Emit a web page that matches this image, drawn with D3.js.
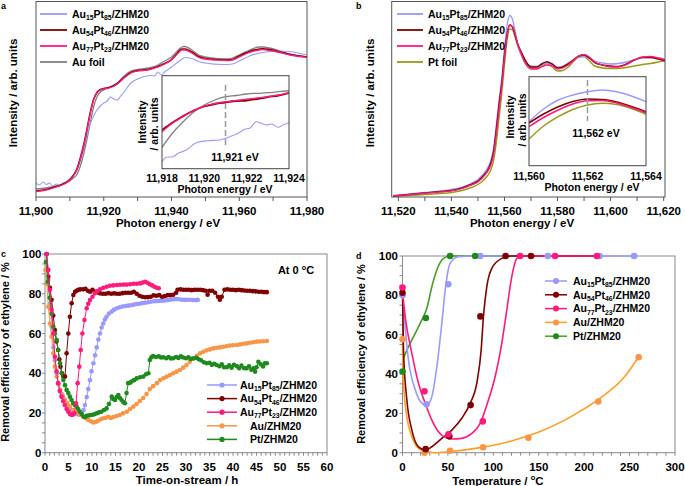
<!DOCTYPE html>
<html>
<head>
<meta charset="utf-8">
<script src="https://cdn.jsdelivr.net/npm/d3@7"></script>
<style>
body { margin: 0; background: #fff; }
text { font-family: "Liberation Sans", Arial, sans-serif; font-weight: bold; fill: #000; }
</style>
</head>
<body>
<svg id="fig" width="685" height="486"></svg>
<script>
// ----- panel a : Au L3 edge (arb. units) -----
let aEV = [11900,11903,11906,11908,11910,11911,11912,11913,11914,11915,11916,11917,11918,11919,11920,11922,11924,11926,11928,11930,11933,11936,11938,11940,11942,11943,11944,11946,11948,11950,11953,11956,11958,11960,11963,11966,11967,11969,11972,11975,11980];
let aAu77 = [5.3,7,10,12.5,17,21,27,37,50,66,83,97,104,107,108,109.5,113,119,124,126,127,130,133,137,144,147,147,144,139.5,138,137,136.3,137,140,144.5,147,147.3,146.5,144.5,142,139.7];
let aAu54 = [6,7.5,10.5,13,17.5,21.5,27.5,38,51,67,84,97.5,104.5,107.5,108.5,110,113.5,119.5,124.5,126.5,127.5,130.5,133.5,137.5,145,148,148,145,140.5,138.5,137.5,137,137.5,141,145.5,148,148.3,147.5,145,142.5,140];
let aAuFoil = [8,9,11,13,16,19,22,30,42,57,74,90,100,105,107,110,114,121,126,127.5,129,132,136,140,147,150,150.5,147,142,140,138.5,138,139,142,147,150,150,149,146,143,140];
let aEVb = [11900,11901,11902,11903,11904,11905,11906,11907,11908,11909,11910,11911,11912,11913,11914,11915,11916,11917,11918,11919,11920,11921,11922,11923,11924,11925,11926,11928,11930,11932,11934,11935,11936,11937,11938,11940,11942,11944,11946,11948,11950,11955,11958,11960,11963,11966,11969,11972,11975,11980];
let aAu15 = [14,12,15,12.5,14,11,13,11,14,15,18,21,26,35,47,61,73,81,87,91,94,96,100,98,97,101,105,114,118,120.5,121.5,121,125,122,125,130,135,139.5,138.5,135.5,134,132.5,133,136,141,144,145.5,146,145.5,142];
// inset a
let aiEV = [11918,11918.5,11919,11919.5,11920,11920.5,11921,11921.5,11922,11922.5,11923,11923.5,11924];
let aiAu77 = [37,45.7,52,58.2,62.7,65.2,67,68.2,69.4,70.7,72,73.7,76];
let aiAu54 = [38.7,46.2,52.7,58.2,62.2,64.7,66.2,67.7,68.2,69.7,71.7,73.2,75.7];
let aiAuFoil = [21.4,35.7,47,56.7,63.7,68.7,72,73.2,74.7,75.4,76,77,78];
let aiEVb = [11918,11918.2,11918.52,11918.76,11919.15,11919.62,11920.17,11920.72,11921.2,11921.6,11921.9,11922.14,11922.46,11922.7,11922.93,11923.17,11923.48,11923.72,11924];
let aiAu15 = [7,11.4,12,15.4,18.7,26,28,28.7,32,35.4,39.4,40.4,47,45.4,43.7,44.7,41.4,43.7,46];

// ----- panel b : Pt L3 edge -----
let bEV = [11518,11524,11530,11536,11540,11544,11547,11550,11552,11553.5,11555,11556,11557,11558,11559,11560,11561,11562,11563,11564,11565,11566.5,11568,11570,11572,11574,11576,11578,11580,11582,11584,11586,11588,11590,11592,11594,11597,11600,11603,11606,11609,11612,11615,11618,11620.5];
let bAu15 = [1.5,3,4.5,6,7.5,10,13,17.5,23,28.5,38,51,74,98,120,148,172,181.5,178,166,152,141,134,131,130.5,132,134,132,130,131,134,137.5,140,140.5,138.5,136,134,133,133.5,135,137.5,139.5,139.5,139,138];
let bAu54 = [1,2.5,4,5.5,6.5,9,12,16,21,26,35,47,69,93,114,142,163,172,170,162,153,144,136,130,130,133,135.3,133,129,130,133,137,141,142,139,134.5,132,131,130.5,133,137,139.5,139.5,138,136];
let bAu77 = [1,2.3,3.8,5.2,6.2,8.5,11.5,15,20,25,33,44,65,89,111,140,162,172,170.5,163,153,142,133,128,128,130,132,131,128,129,132,136.5,141,142.5,140,135,132,130,130,132.5,137,140,140.5,139,137];
let bPtFoil = [0.5,1.5,2.5,3.5,4.5,6.5,9,12.5,16.5,21,28,38,56,80,104,132,157,168,167,160,151,141,133,129,128.5,131,133.5,130,126,126.5,130,135.5,140,140.5,136,131,129,128.5,128.5,129.5,131,132.5,133.5,135,136.5];
// inset b
let biEV = [11560,11560.5,11561,11561.5,11562,11562.5,11563,11563.5,11564];
let biAu15 = [44,56.7,65.7,70.7,74,75.7,74,69.7,64];
let biAu54 = [42.7,51.7,59,64.2,66.7,66.2,63.7,59.2,54];
let biAu77 = [39,48.2,55.7,61.7,65,65.2,62.7,58.2,53];
let biPtFoil = [26.7,39.7,49,56.2,60.7,62.4,61.2,57.2,51.4];

// ----- panel c : removal efficiency vs time on stream [h, %] -----
let cAu15 = [[0.3,100],[0.7,87],[1.06,75],[1.4,63.5],[1.77,53],[2.1,46.5],[2.5,40],[2.85,35],[3.2,31.5],[3.55,29.5],[3.9,28],[4.25,26.5],[4.6,25],[4.95,23.5],[5.3,22.3],[5.65,21.5],[6,20.6],[6.35,20],[6.7,19.5],[7.05,19.3],[7.4,19.5],[7.8,20],[8.2,21.5],[8.5,24],[8.87,28],[9.2,32],[9.57,36.5],[9.9,41],[10.3,45],[10.65,49],[11,53],[11.35,57],[11.7,60],[12.05,63],[12.4,65],[12.75,67],[13.1,68.4],[13.6,70],[14.2,71],[14.7,72],[15.3,72.7],[15.9,73.2],[16.5,73.6],[17.1,73.8],[17.7,74],[18.3,74.2],[18.9,74.5],[19.5,74.8],[20.1,75],[20.7,75.3],[21.3,75.5],[21.9,75.7],[22.5,76],[23.1,76.2],[23.7,76.3],[24.3,76.4],[24.9,76.5],[25.5,76.6],[26.1,76.8],[26.7,77],[27.3,77.2],[27.9,77.3],[28.5,77.2],[29.1,77],[29.7,76.9],[30.3,77],[30.9,77],[31.5,76.8],[32.1,76.8],[32.5,76.9]];
let cAu54 = [[0.35,100],[0.7,88.6],[1.05,83],[1.4,77],[1.75,69],[2.1,61.7],[2.45,56],[2.8,51.7],[3.05,47],[3.3,43.3],[3.6,40],[3.9,38.3],[4.26,38.3],[4.6,50],[4.96,60],[5.3,68.4],[5.67,75.2],[6.03,79.4],[6.4,81],[6.74,81.5],[7.1,82],[7.5,82.2],[8.16,82.2],[8.6,82.5],[9.1,81.5],[9.6,81],[10.1,82],[10.6,81],[11,81],[11.4,80.5],[11.7,80.2],[12.3,80],[12.9,80],[13.5,80.3],[14.1,80],[14.7,80.2],[15.3,80],[15.9,80],[16.5,80.3],[17.1,80.5],[17.7,80.5],[18.3,80.5],[18.9,81],[19.5,80],[20.1,79],[20.7,78.5],[21.3,78.2],[21.9,78.3],[22.5,78.5],[23.1,79.2],[23.7,79],[24.3,79.3],[24.9,78.5],[25.5,78.8],[26.1,79.3],[26.7,79.3],[27.3,79.5],[27.9,80.5],[28.2,82],[28.8,82.2],[29.4,82],[30,82],[30.6,82],[31.2,81.8],[31.8,82],[32.4,82],[33,82],[33.6,81.8],[34.2,81.5],[34.6,79.5],[35,81.5],[35.6,81.5],[36.2,80.5],[36.8,78.5],[37.2,77],[37.6,78.5],[38.2,82],[38.8,82.2],[39.4,82],[40,82],[40.6,81.8],[41.2,82],[41.8,81.8],[42.4,81.6],[43,81.5],[43.6,81.5],[44.2,81.3],[44.8,81.2],[45.4,81],[46,81],[46.6,80.8],[47.2,80.8]];
let cAu77 = [[0.35,100],[0.7,92],[1.06,82],[1.4,72],[1.77,60],[2.1,48.3],[2.45,41],[2.8,35],[3.15,31],[3.5,28.2],[3.85,26],[4.2,24],[4.6,22],[4.96,20.6],[5.3,19.5],[5.67,19],[6,19.2],[6.25,20],[6.6,24.8],[6.95,35],[7.3,43.3],[7.6,51.7],[7.95,60],[8.4,66.8],[8.87,72.7],[9.2,75],[9.57,76.8],[10.1,78.5],[10.6,80.2],[11.1,81.2],[11.7,82.2],[12.4,83],[13.1,83.5],[13.8,84],[14.5,84.2],[15.3,84.4],[16,84.5],[16.7,84.6],[17.4,84.6],[18.1,84.8],[18.8,85],[19.5,85],[20.2,85.2],[20.8,85.6],[21.3,86],[21.8,85.5],[22.3,84.8],[22.8,84.2],[23.3,83.5],[23.8,83],[24.2,82.8]];
let cAu = [[0.1,92],[0.4,85],[0.7,73.5],[1.06,65],[1.4,58.4],[1.77,50],[2.1,43.3],[2.5,38.3],[2.85,34.5],[3.2,31.6],[3.7,29],[4.2,26.5],[4.75,24.8],[5.3,23.2],[6,21.5],[6.7,20],[7.45,19],[8.2,18.1],[8.7,17.3],[9.2,16.5],[9.75,15.8],[10.3,15.2],[10.8,15.5],[11.3,16.1],[11.85,16.8],[12.4,17.3],[12.95,17.6],[13.5,18.1],[14,17.5],[14.5,18],[15.2,18.5],[15.9,19],[16.6,19.8],[17.4,20.6],[18.1,22],[18.8,23.2],[19.5,24.5],[20.2,26],[20.9,27.5],[21.6,29.5],[22.3,32],[23,33.5],[23.8,35],[24.5,36.6],[25.2,37.5],[25.9,38.3],[26.6,39.1],[27.3,40],[28,40.8],[28.7,41.6],[29.4,42.8],[30.1,44.1],[30.8,45.8],[31.6,47.5],[32.3,48.8],[33,50],[33.7,50.8],[34.4,51.5],[35.1,52],[35.8,52.5],[36.5,52.8],[37.2,53],[37.9,53.3],[38.6,53.6],[39.3,53.9],[40,54.1],[40.8,54.2],[41.5,54.5],[42.2,54.8],[42.9,55],[43.6,55.3],[44.3,55.6],[45,55.9],[45.7,56],[46.4,56.1],[47.2,56.2]];
let cPt = [[0.2,96],[0.6,86],[1,78],[1.4,70],[1.77,63.4],[2.1,60],[2.5,56.7],[2.8,51.7],[3.2,45],[3.55,40],[3.9,36.6],[4.25,34],[4.6,31.6],[4.95,30],[5.3,28.2],[5.65,26.5],[6,24.9],[6.35,24],[6.7,23.2],[7.05,22],[7.4,20.6],[7.8,19.5],[8.2,18.1],[8.55,18],[8.87,18.6],[9.4,18.8],[9.9,19],[10.45,19.3],[11,19.8],[11.5,20.3],[12,20.6],[12.55,21.5],[13.1,22.3],[13.6,24.5],[14.2,28.2],[14.55,27],[14.9,26.5],[15.25,28],[15.6,29],[15.95,27.5],[16.3,26.5],[16.65,25.5],[17,24.9],[17.35,30],[17.7,35],[18.1,35.2],[18.4,35.8],[18.95,36.5],[19.5,37.4],[20.2,38],[20.9,38.3],[21.5,39.5],[22,40],[22.3,46.6],[22.65,48],[23,48.7],[23.6,48.2],[24.2,48.5],[24.7,47.9],[25.2,48],[25.8,47.5],[26.3,48.2],[26.8,47.4],[27.3,47.5],[27.9,48.2],[28.4,47.7],[28.9,48.5],[29.4,47.9],[30,47.5],[30.5,48],[31,47.2],[31.6,47.4],[32.2,47.8],[32.7,47],[33.2,46.5],[33.8,45.5],[34.4,45],[35,45.3],[35.5,44.2],[36,44.8],[36.5,44.1],[37.1,43.5],[37.6,44.5],[38.1,43],[38.7,43],[39.2,44],[39.7,42.8],[40.2,44.2],[40.8,43.6],[41.3,42.5],[41.8,43.8],[42.4,42.5],[42.9,42.5],[43.4,43.5],[43.9,41.8],[44.4,42.5],[44.7,40.8],[45,43],[45.4,45.8],[45.9,44.5],[46.4,43.4],[46.8,45],[47.2,45]];

// ----- panel d : removal efficiency vs temperature [°C, %] -----
let dAu15 = [[0,80],[26.5,24.6],[50.5,85.6],[85.5,100],[160,100],[217,100],[255,100]];
let dAu54 = [[0,81.3],[25.5,1.8],[51.5,8.3],[75,24.2],[85.8,69.3],[113.5,100],[141.5,100]];
let dAu77 = [[0,84],[24.2,31.2],[50.6,9.4],[88.4,15.9],[129.5,100],[168,100],[214,100]];
let dAu = [[0,57.7],[24.2,0],[52.3,1],[88.7,2.8],[138.6,7.6],[215.6,26],[260,48.5]];
let dPt = [[0,41.3],[25.7,68.5],[52.4,100],[80,100]];
// fitted guide curves
let dAu15Fit = [[0,80.2],[6.6,47],[14,32],[21.3,25.2],[26.8,24],[32.3,28.5],[37.8,43.7],[43.3,65.8],[47,82.7],[52.5,96.3],[61.6,99.6],[80,100],[255,100]];
let dAu54Fit = [[0,81.5],[1.1,52],[4.8,26.8],[10.3,11.5],[17.6,3],[25,1.4],[32.3,3],[43.3,7.3],[54.3,11.5],[65.3,17.5],[74.5,25.1],[81.8,35.3],[86.6,52.2],[89.1,69.1],[92.8,84.4],[98.3,93.7],[109.3,98.8],[120,100],[215,100]];
let dAu77Fit = [[0,82],[3,69.1],[10.3,50.5],[17.6,35.3],[25,25.1],[32.3,16.6],[39.6,10.7],[47,7.8],[54.3,7],[65.3,7.3],[76.3,9.8],[85.5,14.9],[94.6,26.8],[102,38.6],[109.3,55.6],[114.8,72.5],[120.3,89.5],[125.8,98.8],[131,100],[215,100]];
let dAuFit = [[0,55],[1.1,35.3],[4.8,18.3],[10.3,8.1],[17.6,2.2],[25,0.9],[36,0],[50.6,0.5],[87.4,2.7],[120,6],[150,10.5],[188,19],[217.7,27.7],[243,37.8],[261.4,49.7]];
let dPtFit = [[0,47],[6.6,53.9],[14,60.7],[21.3,67.5],[26.8,73.4],[32.3,84.4],[37.8,92.9],[45.1,98.8],[52.5,100],[199,100]];

let namesAB = ["Au_15Pt_85/ZHM20", "Au_54Pt_46/ZHM20", "Au_77Pt_23/ZHM20"];
let namesCD = ["Au_15Pt_85/ZHM20", "Au_54Pt_46/ZHM20", "Au_77Pt_23/ZHM20", "Au/ZHM20", "Pt/ZHM20"];

let col = { blue: "#9999ff", dark: "#7f0000", pink: "#ff1a7c", gray: "#808080", olive: "#9a9a1a", orange: "#f79646", green: "#1e8a1e" };

let svg = d3.select("#fig");

// text with _sub and ^sup parts
function rich(g, x, y, s, size, anchor) {
    let t = g.append("text").attr("x", x).attr("y", y).attr("font-size", size)
        .attr("text-anchor", anchor || "start");
    let shift = 0;
    s.split(/(_\d+|\^\w)/).filter(p => p).forEach(p => {
        let want = 0, txt = p, fs = size;
        if (p[0] == "_") { want = size * 0.22; txt = p.slice(1); fs = size * 0.65; }
        else if (p[0] == "^") { want = -size * 0.4; txt = p.slice(1); fs = size * 0.65; }
        t.append("tspan").attr("dy", want - shift).attr("font-size", fs).text(txt);
        shift = want;
    });
    return t;
}

function clip(id, x0, y0, x1, y1) {
    svg.append("clipPath").attr("id", id).append("rect")
        .attr("x", x0).attr("y", y0).attr("width", x1 - x0).attr("height", y1 - y0);
}

function drawXY(g, xs, ys, x, y, color, w) {
    let line = d3.line().x(d => x(d[0])).y(d => y(d[1])).curve(d3.curveMonotoneX);
    g.append("path").attr("d", line(xs.map((v, i) => [v, ys[i]])))
        .attr("fill", "none").attr("stroke", color).attr("stroke-width", w);
}

function xTicks(g, x, vals, y0, len, color) {
    g.selectAll(null).data(vals).enter().append("line")
        .attr("x1", d => x(d)).attr("x2", d => x(d)).attr("y1", y0).attr("y2", y0 + len)
        .attr("stroke", color);
}
function yTicks(g, y, vals, x0, len, color) {
    g.selectAll(null).data(vals).enter().append("line")
        .attr("y1", d => y(d)).attr("y2", d => y(d)).attr("x1", x0).attr("x2", x0 - len)
        .attr("stroke", color);
}
function xLabels(g, x, vals, yb, fs, fmt) {
    g.selectAll(null).data(vals).enter().append("text")
        .attr("x", d => x(d)).attr("y", yb).attr("font-size", fs)
        .attr("text-anchor", "middle").text(fmt);
}
function yLabels(g, y, vals, xr, fs) {
    g.selectAll(null).data(vals).enter().append("text")
        .attr("x", xr).attr("y", d => y(d) + fs * 0.35).attr("font-size", fs)
        .attr("text-anchor", "end").text(d => d);
}
function rotLabel(g, x, y, s, fs) {
    g.append("text").attr("transform", `translate(${x},${y}) rotate(-90)`)
        .attr("text-anchor", "middle").attr("font-size", fs).text(s);
}

let comma = d3.format(",");

// ================= panel a =================
{
    let g = svg.append("g");
    let x = d3.scaleLinear().domain([11900, 11980]).range([36, 307]);
    let y = d3.scaleLinear().domain([0, 195]).range([197, 2]);
    clip("ca", 36, 1.5, 307, 197);
    let lines = g.append("g").attr("clip-path", "url(#ca)");
    drawXY(lines, aEV, aAuFoil, x, y, col.gray, 1.3);
    drawXY(lines, aEVb, aAu15, x, y, col.blue, 1.1);
    drawXY(lines, aEV, aAu54, x, y, col.dark, 1.6);
    drawXY(lines, aEV, aAu77, x, y, col.pink, 1.3);
    g.append("rect").attr("x", 36).attr("y", 1.5).attr("width", 271).attr("height", 195.5)
        .attr("fill", "none").attr("stroke", "#555");
    xTicks(g, x, d3.range(11900, 11981, 10), 197, 4, "#555");
    xLabels(g, x, d3.range(11900, 11981, 20), 215, 11.5, comma);
    g.append("text").attr("x", 168).attr("y", 227).attr("text-anchor", "middle").attr("font-size", 11.5).text("Photon energy / eV");
    rotLabel(g, 17, 93, "Intensity / arb. units", 11.5);
    g.append("text").attr("x", 1).attr("y", 9).attr("font-size", 9).text("a");

    let lc = [col.blue, col.dark, col.pink, col.gray];
    let ln = namesAB.concat(["Au foil"]);
    ln.forEach((s, i) => {
        let yy = 14 + i * 16;
        g.append("line").attr("x1", 40).attr("x2", 67).attr("y1", yy).attr("y2", yy)
            .attr("stroke", lc[i]).attr("stroke-width", 1.8);
        rich(g, 72, yy + 4, s, 10.5);
    });

    // inset
    let xi = d3.scaleLinear().domain([11918, 11924]).range([162, 289]);
    let yi = d3.scaleLinear().domain([0, 93]).range([168.7, 75.7]);
    g.append("rect").attr("x", 162).attr("y", 75.7).attr("width", 127).attr("height", 93).attr("fill", "#fff");
    clip("cai", 162, 75.7, 289, 168.7);
    let il = g.append("g").attr("clip-path", "url(#cai)");
    g.append("line").attr("x1", xi(11921)).attr("x2", xi(11921)).attr("y1", 85).attr("y2", 148)
        .attr("stroke", "#999").attr("stroke-width", 1.5).attr("stroke-dasharray", "6,3");
    drawXY(il, aiEV, aiAuFoil, xi, yi, col.gray, 1.3);
    drawXY(il, aiEVb, aiAu15, xi, yi, col.blue, 1.1);
    drawXY(il, aiEV, aiAu54, xi, yi, col.dark, 1.8);
    drawXY(il, aiEV, aiAu77, xi, yi, col.pink, 1.4);
    g.append("rect").attr("x", 162).attr("y", 75.7).attr("width", 127).attr("height", 93)
        .attr("fill", "none").attr("stroke", "#444");
    xLabels(g, xi, d3.range(11918, 11925, 2), 182, 10.5, comma);
    g.append("text").attr("x", 225).attr("y", 193).attr("text-anchor", "middle").attr("font-size", 10.5).text("Photon energy / eV");
    g.append("text").attr("x", 235).attr("y", 161).attr("text-anchor", "middle").attr("font-size", 10.5).text("11,921 eV");
    rotLabel(g, 146, 122, "Intensity", 10.5);
    rotLabel(g, 158, 124, "/ arb. units", 10.5);
}

// ================= panel b =================
{
    let g = svg.append("g");
    let x = d3.scaleLinear().domain([11517.5, 11620.5]).range([391.7, 665]);
    let y = d3.scaleLinear().domain([0, 195]).range([197, 2]);
    clip("cb", 391.7, 1.5, 665, 197);
    let lines = g.append("g").attr("clip-path", "url(#cb)");
    drawXY(lines, bEV, bPtFoil, x, y, col.olive, 1.4);
    drawXY(lines, bEV, bAu15, x, y, col.blue, 1.3);
    drawXY(lines, bEV, bAu54, x, y, col.dark, 1.5);
    drawXY(lines, bEV, bAu77, x, y, col.pink, 1.3);
    g.append("rect").attr("x", 391.7).attr("y", 1.5).attr("width", 273.3).attr("height", 195.5)
        .attr("fill", "none").attr("stroke", "#555");
    xTicks(g, x, d3.range(11520, 11621, 10), 197, 4, "#555");
    xLabels(g, x, d3.range(11520, 11621, 20), 215, 11.5, comma);
    g.append("text").attr("x", 522).attr("y", 227).attr("text-anchor", "middle").attr("font-size", 11.5).text("Photon energy / eV");
    rotLabel(g, 374, 93, "Intensity / arb. units", 11.5);
    g.append("text").attr("x", 356).attr("y", 9).attr("font-size", 9).text("b");

    let lc = [col.blue, col.dark, col.pink, col.olive];
    let ln = namesAB.concat(["Pt foil"]);
    ln.forEach((s, i) => {
        let yy = 14 + i * 16;
        g.append("line").attr("x1", 397).attr("x2", 423).attr("y1", yy).attr("y2", yy)
            .attr("stroke", lc[i]).attr("stroke-width", 1.8);
        rich(g, 428, yy + 4, s, 10.5);
    });

    // inset
    let xi = d3.scaleLinear().domain([11560, 11564]).range([529, 646]);
    let yi = d3.scaleLinear().domain([0, 89]).range([165.7, 76.7]);
    g.append("rect").attr("x", 529).attr("y", 76.7).attr("width", 117).attr("height", 89).attr("fill", "#fff");
    clip("cbi", 529, 76.7, 646, 165.7);
    let il = g.append("g").attr("clip-path", "url(#cbi)");
    g.append("line").attr("x1", xi(11562)).attr("x2", xi(11562)).attr("y1", 80).attr("y2", 121)
        .attr("stroke", "#999").attr("stroke-width", 1.5).attr("stroke-dasharray", "6,3");
    drawXY(il, biEV, biPtFoil, xi, yi, col.olive, 1.5);
    drawXY(il, biEV, biAu15, xi, yi, col.blue, 1.4);
    drawXY(il, biEV, biAu54, xi, yi, col.dark, 1.5);
    drawXY(il, biEV, biAu77, xi, yi, col.pink, 1.5);
    g.append("rect").attr("x", 529).attr("y", 76.7).attr("width", 117).attr("height", 89)
        .attr("fill", "none").attr("stroke", "#444");
    xLabels(g, xi, d3.range(11560, 11565, 2), 179.5, 10.5, comma);
    g.append("text").attr("x", 592).attr("y", 191).attr("text-anchor", "middle").attr("font-size", 10.5).text("Photon energy / eV");
    g.append("text").attr("x", 596).attr("y", 137).attr("text-anchor", "middle").attr("font-size", 10.5).text("11,562 eV");
    rotLabel(g, 514, 117, "Intensity", 10.5);
    rotLabel(g, 526, 120, "/ arb. units", 10.5);
}

// ================= panel c =================
{
    let g = svg.append("g");
    let x = d3.scaleLinear().domain([0, 60]).range([45, 327]);
    let y = d3.scaleLinear().domain([0, 100]).range([452.7, 254]);
    g.append("rect").attr("x", 45).attr("y", 254).attr("width", 282).attr("height", 198.7)
        .attr("fill", "none").attr("stroke", "#888");
    xTicks(g, x, d3.range(0, 61, 1), 452.7, 3, "#888");
    yTicks(g, y, d3.range(0, 101, 5), 45, 3, "#888");
    xLabels(g, x, d3.range(0, 61, 5), 471, 11.5, d => d);
    yLabels(g, y, d3.range(0, 101, 20), 41.5, 11.5);
    g.append("text").attr("x", 187).attr("y", 484).attr("text-anchor", "middle").attr("font-size", 11.5).text("Time-on-stream / h");
    rotLabel(g, 9, 352, "Removal efficiency of ethylene / %", 11);
    g.append("text").attr("x", 1).attr("y", 257).attr("font-size", 9).text("c");
    rich(g, 296, 274, "At 0 ^oC", 11, "middle");

    let series = [[cAu15, col.blue], [cAu54, col.dark], [cAu, col.orange], [cPt, col.green], [cAu77, col.pink]];
    let line = d3.line().x(d => x(d[0])).y(d => y(d[1]));
    series.forEach(s => {
        let sg = g.append("g");
        sg.append("path").attr("d", line(s[0])).attr("fill", "none").attr("stroke", s[1]).attr("stroke-width", 1);
        sg.selectAll("circle").data(s[0]).enter().append("circle")
            .attr("cx", d => x(d[0])).attr("cy", d => y(d[1])).attr("r", 2.3).attr("fill", s[1]);
    });

    let lc = [col.blue, col.dark, col.pink, col.orange, col.green];
    namesCD.forEach((s, i) => {
        let yy = 385 + i * 13.6;
        g.append("line").attr("x1", 207).attr("x2", 237).attr("y1", yy).attr("y2", yy)
            .attr("stroke", lc[i]).attr("stroke-width", 1.5);
        g.append("circle").attr("cx", 222).attr("cy", yy).attr("r", 2.6).attr("fill", lc[i]);
        rich(g, i < 3 ? 240 : 250, yy + 3.8, s, 10.5);
    });
}

// ================= panel d =================
{
    let g = svg.append("g");
    let x = d3.scaleLinear().domain([0, 300]).range([402.5, 675]);
    let y = d3.scaleLinear().domain([0, 100]).range([452.7, 256]);
    g.append("rect").attr("x", 402.5).attr("y", 256).attr("width", 272.5).attr("height", 196.7)
        .attr("fill", "none").attr("stroke", "#888");
    xTicks(g, x, d3.range(0, 301, 10), 452.7, 3, "#888");
    yTicks(g, y, d3.range(0, 101, 5), 402.5, 3, "#888");
    xLabels(g, x, d3.range(0, 301, 50), 471, 11.5, d => d);
    yLabels(g, y, d3.range(0, 101, 20), 398, 11.5);
    rich(g, 498, 485, "Temperature / ^oC", 11.5, "middle");
    rotLabel(g, 365, 354, "Removal efficiency of ethylene / %", 11);
    g.append("text").attr("x", 356).attr("y", 259).attr("font-size", 9).text("d");

    let fitLine = d3.line().x(d => x(d[0])).y(d => y(d[1])).curve(d3.curveMonotoneX);
    let fits = [[dPtFit, "#4a9a2a"], [dAuFit, "#ff9f24"], [dAu15Fit, col.blue], [dAu54Fit, col.dark], [dAu77Fit, col.pink]];
    fits.forEach(f => {
        g.append("path").attr("d", fitLine(f[0])).attr("fill", "none").attr("stroke", f[1]).attr("stroke-width", 1.6);
    });
    let pts = [[dAu15, col.blue], [dPt, col.green], [dAu, col.orange], [dAu54, col.dark], [dAu77, col.pink]];
    pts.forEach(p => {
        g.append("g").selectAll("circle").data(p[0]).enter().append("circle")
            .attr("cx", d => x(d[0])).attr("cy", d => y(d[1])).attr("r", 3.3).attr("fill", p[1]);
    });

    let lc = [col.blue, col.dark, col.pink, col.orange, col.green];
    let lr = ["#9999ff", "#7f0000", "#ff1a7c", "#ff9f24", "#4a9a2a"];
    namesCD.forEach((s, i) => {
        let yy = 281 + i * 13.8;
        g.append("line").attr("x1", 545).attr("x2", 567).attr("y1", yy).attr("y2", yy)
            .attr("stroke", lr[i]).attr("stroke-width", 1.5);
        g.append("circle").attr("cx", 556).attr("cy", yy).attr("r", 3).attr("fill", lc[i]);
        rich(g, 573, yy + 3.8, s, 10.5);
    });
}
</script>
</body>
</html>
